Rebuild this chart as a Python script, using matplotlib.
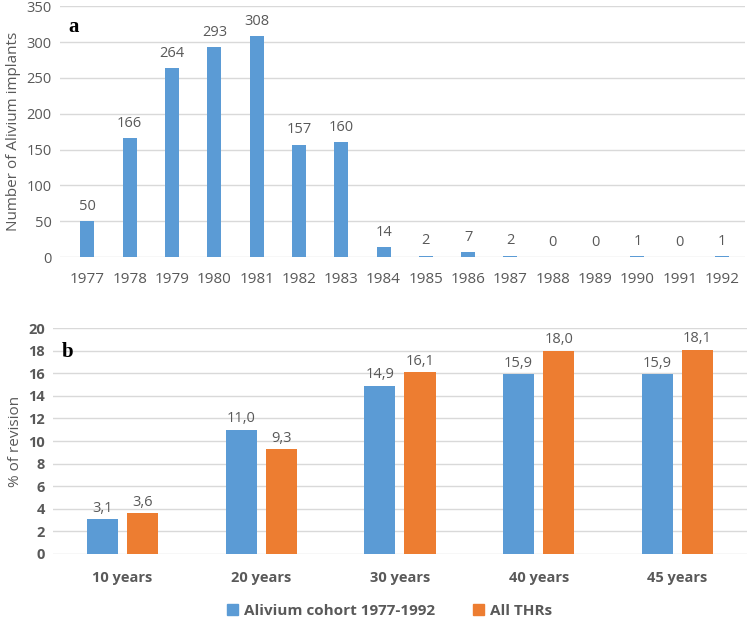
import numpy as np
import matplotlib
matplotlib.use("Agg")
from matplotlib import pyplot as plt
from matplotlib.patches import Patch

# panel a data
years = ['1977', '1978', '1979', '1980', '1981', '1982', '1983', '1984',
         '1985', '1986', '1987', '1988', '1989', '1990', '1991', '1992']
implants = [50, 166, 264, 293, 308, 157, 160, 14, 2, 7, 2, 0, 0, 1, 0, 1]

# panel b data
periods = ['10 years', '20 years', '30 years', '40 years', '45 years']
alivium = [3.1, 11.0, 14.9, 15.9, 15.9]
all_thrs = [3.6, 9.3, 16.1, 18.0, 18.1]

blue = '#5B9BD5'
orange = '#ED7D31'
txt = '#595959'
grid = '#D9D9D9'

plt.rcParams['font.family'] = ['Open Sans', 'DejaVu Sans']

fig = plt.figure(figsize=(7.49, 6.18), dpi=100)
ax1 = fig.add_axes([0.080, 0.584, 0.915, 0.406])
ax2 = fig.add_axes([0.071, 0.1036, 0.926, 0.3654])

for ax in (ax1, ax2):
    for s in ax.spines.values():
        s.set_visible(False)
    ax.grid(axis='y', color=grid, linewidth=1)
    ax.set_axisbelow(True)
    ax.tick_params(length=0, colors=txt)

# --- a ---
x = np.arange(len(years))
ax1.bar(x, implants, width=0.33, color=blue)
for xi, v in zip(x, implants):
    ax1.text(xi, v + 10, str(v), ha='center', va='bottom', fontsize=10.5, color=txt)
ax1.set_xlim(-0.65, len(years) - 0.45)
ax1.set_ylim(0, 350)
ax1.set_yticks(range(0, 351, 50))
ax1.set_xticks(x)
ax1.set_xticklabels(years, fontsize=11)
ax1.tick_params(axis='y', labelsize=10.5, pad=6)
ax1.tick_params(axis='x', pad=11)
ax1.set_ylabel('Number of Alivium implants', fontsize=11, color=txt)
ax1.text(0.012, 0.955, 'a', transform=ax1.transAxes, fontsize=15,
         fontweight='bold', family='Liberation Serif', va='top')

# --- b ---
x2 = np.arange(len(periods))
w = 0.225
off = 0.145
ax2.bar(x2 - off, alivium, width=w, color=blue)
ax2.bar(x2 + off, all_thrs, width=w, color=orange)
for xi, a, b in zip(x2, alivium, all_thrs):
    ax2.text(xi - off, a + 0.3, f'{a:.1f}'.replace('.', ','), ha='center',
             va='bottom', fontsize=10.5, color=txt)
    ax2.text(xi + off, b + 0.3, f'{b:.1f}'.replace('.', ','), ha='center',
             va='bottom', fontsize=10.5, color=txt)
ax2.set_xlim(-0.5, len(periods) - 0.5)
ax2.set_ylim(0, 20)
ax2.set_yticks(range(0, 21, 2))
ax2.set_xticks(x2)
ax2.set_xticklabels(periods, fontsize=10.5, fontweight='bold')
for lab in ax2.get_yticklabels():
    lab.set_fontweight('bold')
ax2.tick_params(axis='y', labelsize=10.5, pad=6)
ax2.tick_params(axis='x', pad=12)
ax2.set_ylabel('% of revision', fontsize=11, color=txt)
ax2.text(0.012, 0.94, 'b', transform=ax2.transAxes, fontsize=15,
         fontweight='bold', family='Liberation Serif', va='top')

handles = [Patch(color=blue, label='Alivium cohort 1977-1992'),
           Patch(color=orange, label='All THRs')]
leg = fig.legend(handles=handles, loc='center', bbox_to_anchor=(0.52, 0.012),
                 ncol=2, frameon=False, handlelength=0.7, handleheight=0.7,
                 columnspacing=2.5, handletextpad=0.4,
                 prop={'size': 11, 'weight': 'bold'})
for t in leg.get_texts():
    t.set_color(txt)

fig.savefig('out.png', dpi=100)
